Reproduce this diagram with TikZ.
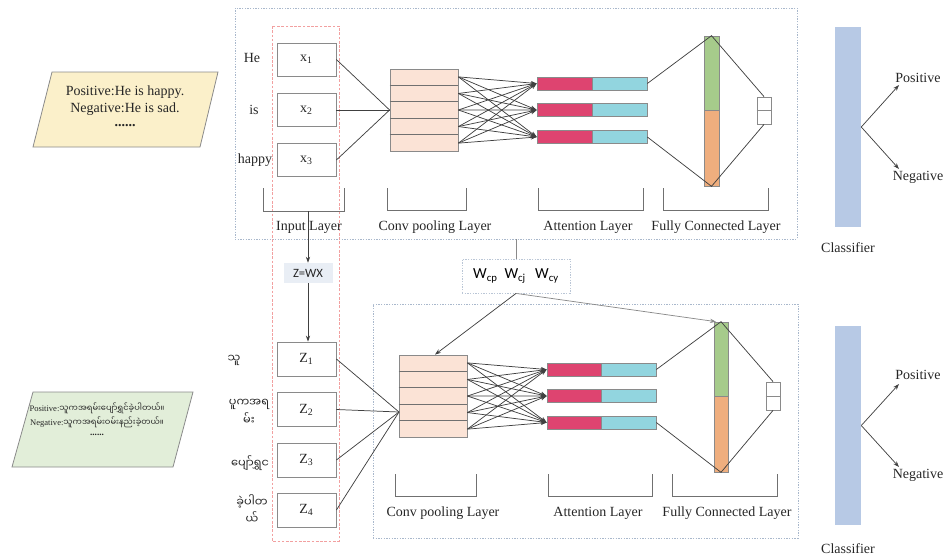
\documentclass[tikz,border=0pt]{standalone}
\usepackage{fontspec}
\setmainfont{Liberation Serif}
\newfontfamily\carlito{Carlito}
\newfontfamily\myfont[Script=Myanmar]{Noto Sans Myanmar UI}
\usetikzlibrary{arrows.meta,calc}
\newlength\px \setlength\px{0.75pt}
\definecolor{linegray}{HTML}{404040}
\definecolor{boxgray}{HTML}{8A8A8A}
\definecolor{textgray}{HTML}{262626}
\definecolor{peach}{HTML}{FBE3D6}
\definecolor{attred}{HTML}{DE4470}
\definecolor{attcyan}{HTML}{92D5DF}
\definecolor{fcgreen}{HTML}{A6CB8B}
\definecolor{fcorange}{HTML}{EFAE7E}
\definecolor{clblue}{HTML}{B7C9E5}
\definecolor{paryellow}{HTML}{FBF0CA}
\definecolor{pargreen}{HTML}{E2EED9}
\definecolor{dotblue}{HTML}{A9B8CC}
\definecolor{reddash}{HTML}{F2A0A0}
\definecolor{zwxfill}{HTML}{E9EEF5}
\definecolor{brgray}{HTML}{707070}
\begin{document}
\begin{tikzpicture}[x=0.75pt,y=-0.75pt,
  conn/.style={draw=linegray, line width=0.55pt},
  arr/.style={conn, -{Stealth[length=4.5pt,width=3.2pt]}},
  box/.style={draw=boxgray, fill=white, line width=0.6pt, minimum width=59\px, minimum height=33\px, inner sep=0pt, font=\fontsize{10.5}{12}\selectfont, text=textgray},
  lab/.style={inner sep=0pt, font=\fontsize{10.5}{12}\selectfont, text=textgray},
  mylab/.style={inner sep=0pt, font=\myfont\fontsize{8.5}{13}\selectfont, text=textgray, align=center},
  convbox/.style={draw=boxgray, fill=peach, line width=0.6pt, minimum width=68\px, minimum height=82\px, inner sep=0pt},
  attr/.style={draw=boxgray, fill=attred, line width=0.5pt, minimum width=55\px, minimum height=13\px, inner sep=0pt},
  attc/.style={draw=boxgray, fill=attcyan, line width=0.5pt, minimum width=55\px, minimum height=13\px, inner sep=0pt},
  fcg/.style={draw=boxgray, fill=fcgreen, line width=0.5pt, minimum width=15\px, inner sep=0pt},
  fco/.style={draw=boxgray, fill=fcorange, line width=0.5pt, minimum width=15\px, inner sep=0pt},
  smallbox/.style={draw=boxgray, fill=white, line width=0.6pt, minimum width=14\px, minimum height=27\px, inner sep=0pt},
  clbar/.style={fill=clblue, minimum width=26\px, inner sep=0pt},
  bracket/.style={draw=brgray, line width=0.7pt},
  dotrect/.style={draw=dotblue, line width=0.6pt, dash pattern=on 1pt off 1pt, inner sep=0pt},
  reddashed/.style={draw=reddash, line width=0.5pt, dash pattern=on 2pt off 1.2pt}
]
\useasboundingbox (0,0) rectangle (948,558);

% frames
\node[dotrect, minimum width=562\px, minimum height=231\px] (tr) at (516,123.5) {};
\node[dotrect, minimum width=425\px, minimum height=234\px] (br) at (585.5,421) {};
\draw[reddashed] (272,26) rectangle (339,541);

% ---------- top input ----------
\path[draw=boxgray, fill=paryellow, line width=0.6pt] (52,72) -- (218,72) -- (200,147) -- (33,147) -- cycle;
\node[lab] (p1) at (125,92) {Positive:He is happy.};
\node[lab] (p2) at (125,109) {Negative:He is sad.};
\node[lab] (p3) at (125,126) {\textbf{......}};

\node[lab] (w1) at (252,58) {He};
\node[lab] (w2) at (254,110) {is};
\node[lab] (w3) at (255,160) {happy};

\node[box] (x1) at (306.5,59.5) {x\textsubscript{1}};
\node[box] (x2) at (306.5,110) {x\textsubscript{2}};
\node[box] (x3) at (306.5,160) {x\textsubscript{3}};

\node[convbox] (c1) at (424,110) {};
\foreach \k in {1,...,4}
  \draw[draw=brgray, line width=0.8pt] ($(c1.north west)!\k/5!(c1.south west)$) -- ($(c1.north east)!\k/5!(c1.south east)$);
\foreach \i in {1,2,3} \draw[conn] (x\i.east) -- (c1.west);

\foreach \j/\y in {1/83.5,2/110,3/137} {
  \node[attr] (ar\j) at (564.5,\y) {};
  \node[attc] (ac\j) at (619.5,\y) {};
}
\foreach \k in {1,...,5}
  \foreach \j in {1,2,3}
    \draw[arr] ($(c1.north east)!{(2*\k-1)/10}!(c1.south east)$) -- (ar\j.west);

\node[fcg, minimum height=74\px] (fg1) at (711.5,73) {};
\node[fco, minimum height=76\px] (fo1) at (711.5,148) {};
\node[smallbox] (sb1) at (764,110.5) {};
\draw[draw=boxgray, line width=0.6pt] (sb1.west) -- (sb1.east);
\draw[conn] (ac1.east) -- (fg1.north) -- (sb1.north);
\draw[conn] (ac3.east) -- (fo1.south) -- (sb1.south);

% brackets top
\draw[bracket] (263,188) -- (263,211) -- (344,211) -- (344,188);
\draw[bracket] (387,188) -- (387,210) -- (466,210) -- (466,188);
\draw[bracket] (538,188) -- (538,210) -- (643,210) -- (643,188);
\draw[bracket] (663,188) -- (663,210) -- (768,210) -- (768,188);
\coordinate (ib) at (308,211);
\node[lab] (l1) at (309,227) {Input Layer};
\node[lab] (l2) at (435,227) {Conv pooling Layer};
\node[lab] (l3) at (588,227) {Attention Layer};
\node[lab] (l4) at (716,227) {Fully Connected Layer};

% classifier top
\node[clbar, minimum height=200\px] (cl1) at (848,127) {};
\coordinate (pa1) at (899,85);
\coordinate (na1) at (899,169);
\draw[arr] (cl1.east) -- (pa1);
\draw[arr] (cl1.east) -- (na1);
\node[lab] (pos1) at (918,78) {Positive};
\node[lab] (neg1) at (918,177) {Negative};
\node[lab] (cn1) at (848,248) {Classifier};

% ---------- middle ----------
\node[fill=zwxfill, minimum width=49\px, minimum height=20\px, inner sep=0pt, font=\carlito\fontsize{9.5}{11}\selectfont, text=textgray] (zwx) at (308,273) {Z=WX};
\draw[arr] (ib) -- (zwx.north);

\node[dotrect, draw=dotblue!80, minimum width=108\px, minimum height=34\px, font=\carlito\fontsize{11.5}{13}\selectfont, text=black] (wb) at (516,276)
  {W\textsubscript{cp}\hspace{0.45em}W\textsubscript{cj}\hspace{0.6em}W\textsubscript{cy}};
\draw[conn, draw=boxgray] (wb.north) -- (wb.north |- tr.south);

% ---------- bottom input ----------
\path[draw=boxgray, fill=pargreen, line width=0.6pt] (33,392) -- (193,392) -- (173,467) -- (12,467) -- cycle;
\node[inner sep=0pt, text=textgray, font=\fontsize{6.4}{8}\selectfont] (q1) at (97,408) {Positive:{\myfont\fontsize{6.2}{8}\selectfont သူကအရမ်းပျော်ရွှင်ခဲ့ပါတယ်။}};
\node[inner sep=0pt, text=textgray, font=\fontsize{6.4}{8}\selectfont] (q2) at (97,422) {Negative:{\myfont\fontsize{6.2}{8}\selectfont သူကအရမ်းဝမ်းနည်းခဲ့တယ်။}};
\node[inner sep=0pt, text=textgray, font=\fontsize{7}{8}\selectfont] (q3) at (97,435) {\textbf{......}};

\node[mylab] (m1) at (234,360) {သူ};
\node[mylab] (m2) at (249,412) {ပူကအရ\\မ်း};
\node[mylab] (m3) at (250,463) {ပျော်ရွှင};
\node[mylab] (m4) at (252,509) {ခဲ့ပါတ\\ယ်};

\node[box, minimum height=34\px] (z1) at (306.5,359) {Z\textsubscript{1}};
\node[box, minimum height=34\px] (z2) at (306.5,409.5) {Z\textsubscript{2}};
\node[box, minimum height=34\px] (z3) at (306.5,460) {Z\textsubscript{3}};
\node[box, minimum height=34\px] (z4) at (306.5,510) {Z\textsubscript{4}};
\draw[arr] (zwx.south) -- (zwx.south |- z1.north);

\node[convbox] (c2) at (433,396) {};
\foreach \k in {1,...,4}
  \draw[draw=brgray, line width=0.8pt] ($(c2.north west)!\k/5!(c2.south west)$) -- ($(c2.north east)!\k/5!(c2.south east)$);
\coordinate (cv2) at (399,412);
\foreach \i in {1,2,3,4} \draw[conn] (z\i.east) -- (cv2);

\foreach \j/\y in {1/369.5,2/396,3/422.5} {
  \node[attr, minimum width=54\px] (br\j) at (574,\y) {};
  \node[attc] (bc\j) at (628.5,\y) {};
}
\foreach \k in {1,...,5}
  \foreach \j in {1,2,3}
    \draw[arr] ($(c2.north east)!{(2*\k-1)/10}!(c2.south east)$) -- (br\j.west);

\node[fcg, minimum width=14\px, minimum height=74\px] (fg2) at (721,359) {};
\node[fco, minimum width=14\px, minimum height=76\px] (fo2) at (721,434) {};
\node[smallbox, minimum height=28\px] (sb2) at (773,396) {};
\draw[draw=boxgray, line width=0.6pt] (sb2.west) -- (sb2.east);
\draw[conn] (bc1.east) -- (fg2.north) -- (sb2.north);
\draw[conn] (bc3.east) -- (fo2.south) -- (sb2.south);

\draw[arr] (wb.south) -- ([xshift=2\px]c2.north);
\draw[arr, draw=boxgray] (wb.south) -- ([xshift=-5\px]fg2.north);

% brackets bottom
\draw[bracket] (395,474) -- (395,496) -- (476,496) -- (476,474);
\draw[bracket] (548,474) -- (548,496) -- (652,496) -- (652,474);
\draw[bracket] (672,474) -- (672,496) -- (777,496) -- (777,474);
\node[lab] (l5) at (443,513) {Conv pooling Layer};
\node[lab] (l6) at (598,513) {Attention Layer};
\node[lab] (l7) at (727,513) {Fully Connected Layer};

% classifier bottom
\node[clbar, minimum height=199\px] (cl2) at (848,425.5) {};
\coordinate (pa2) at (899,384);
\coordinate (na2) at (899,467);
\draw[arr] (cl2.east) -- (pa2);
\draw[arr] (cl2.east) -- (na2);
\node[lab] (pos2) at (918,375) {Positive};
\node[lab] (neg2) at (918,475) {Negative};
\node[lab] (cn2) at (848,549) {Classifier};
\end{tikzpicture}
\end{document}
